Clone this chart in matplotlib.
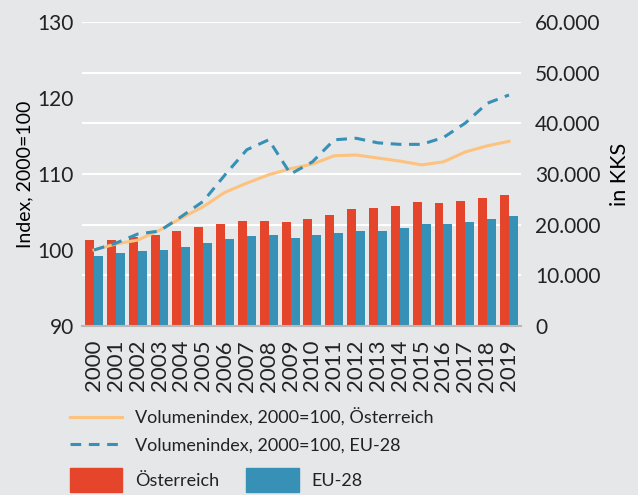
import numpy as np
import matplotlib
matplotlib.use("Agg")
from matplotlib import pyplot as plt
from matplotlib.lines import Line2D
from matplotlib.patches import Patch
from matplotlib.ticker import FuncFormatter

years = [str(y) for y in range(2000, 2020)]

# KKS per head (right axis, bars)
kks_at = [17000, 17000, 17500, 18000, 18800, 19600, 20200, 20800, 20800, 20600,
          21150, 21950, 23100, 23300, 23700, 24450, 24250, 24650, 25250, 25850]
kks_eu = [13800, 14450, 14850, 15050, 15650, 16450, 17250, 17800, 18000, 17450,
          18000, 18450, 18750, 18750, 19350, 20150, 20150, 20500, 21100, 21700]

# volume index 2000=100 (left axis, lines)
idx_at = [100.0, 100.8, 101.3, 102.6, 104.2, 105.7, 107.6, 108.8, 109.9, 110.7,
          111.3, 112.4, 112.5, 112.1, 111.7, 111.2, 111.6, 112.9, 113.7, 114.3]
idx_eu = [100.0, 100.9, 102.1, 102.5, 104.4, 106.4, 109.9, 113.2, 114.5, 110.0,
          111.6, 114.5, 114.7, 114.1, 113.9, 113.9, 114.8, 116.7, 119.3, 120.4]

bg = "#e6e7e8"
red = "#e5462b"
blue = "#3790b5"
orange = "#fdc27e"
txt = "#222222"

plt.rcParams["font.family"] = ["Lato", "DejaVu Sans"]
plt.rcParams["text.color"] = txt

fig = plt.figure(figsize=(6.38, 4.95), dpi=100, facecolor=bg)
ax = fig.add_axes([82 / 638, 1 - 326 / 495, (521 - 82) / 638, (326 - 22) / 495])
ax2 = ax.twinx()
ax.set_zorder(ax2.get_zorder() + 1)
ax.patch.set_visible(False)
ax2.set_facecolor(bg)

x = np.arange(len(years))
w = 0.41
ax2.bar(x - w / 2, kks_at, width=w, color=red, zorder=2)
ax2.bar(x + w / 2, kks_eu, width=w, color=blue, zorder=2)
ax2.set_ylim(0, 60000)
ax2.set_yticks(range(0, 60001, 10000))
ax2.yaxis.set_major_formatter(FuncFormatter(lambda v, p: f"{int(v):,}".replace(",", ".")))

ax.plot(x, idx_at, color=orange, lw=2.2, zorder=3)
ax.plot(x, idx_eu, color=blue, lw=2.2, ls=(0, (3.5, 2.5)), zorder=4)
ax.set_ylim(90, 130)
ax.set_yticks(range(90, 131, 10))
ax.set_xlim(-0.55, len(years) - 0.45)
ax.set_xticks(x)
ax.set_xticklabels(years, rotation=90)

for a in (ax, ax2):
    for s in a.spines.values():
        s.set_visible(False)
    a.tick_params(length=0, labelsize=15, colors=txt)
ax.tick_params(axis="x", pad=10, labelsize=16)
ax.tick_params(axis="y", pad=6)
ax2.tick_params(axis="y", pad=10)
ax.spines["bottom"].set_visible(True)
ax.spines["bottom"].set_color("#b8b8b8")
ax.spines["bottom"].set_linewidth(1.5)
ax2.yaxis.grid(True, color="white", lw=1.5, zorder=0)
ax2.set_axisbelow(True)

ax.set_ylabel("Index, 2000=100", fontsize=14, labelpad=3)
ax2.set_ylabel("in KKS", fontsize=15.5, labelpad=7)

fs = 13
h_lines = [Line2D([], [], color=orange, lw=2.2),
           Line2D([], [], color=blue, lw=2.2, ls=(0, (3.5, 2.5)))]
fig.legend(h_lines, ["Volumenindex, 2000=100, Österreich",
                     "Volumenindex, 2000=100, EU-28"],
           loc="upper left", bbox_to_anchor=(70 / 638, 1 - 408 / 495),
           frameon=False, fontsize=fs, handlelength=2.9, borderpad=0,
           borderaxespad=0, handletextpad=0.7, labelspacing=0.6)
h_bars = [Patch(color=red), Patch(color=blue)]
fig.legend(h_bars, ["Österreich", "EU-28"], ncol=2,
           loc="upper left", bbox_to_anchor=(70 / 638, 1 - 468 / 495),
           frameon=False, fontsize=fs, handlelength=2.9, handleheight=1.7,
           borderpad=0, borderaxespad=0, handletextpad=0.7, columnspacing=1.5)

fig.savefig("out.png", dpi=100, facecolor=bg)
